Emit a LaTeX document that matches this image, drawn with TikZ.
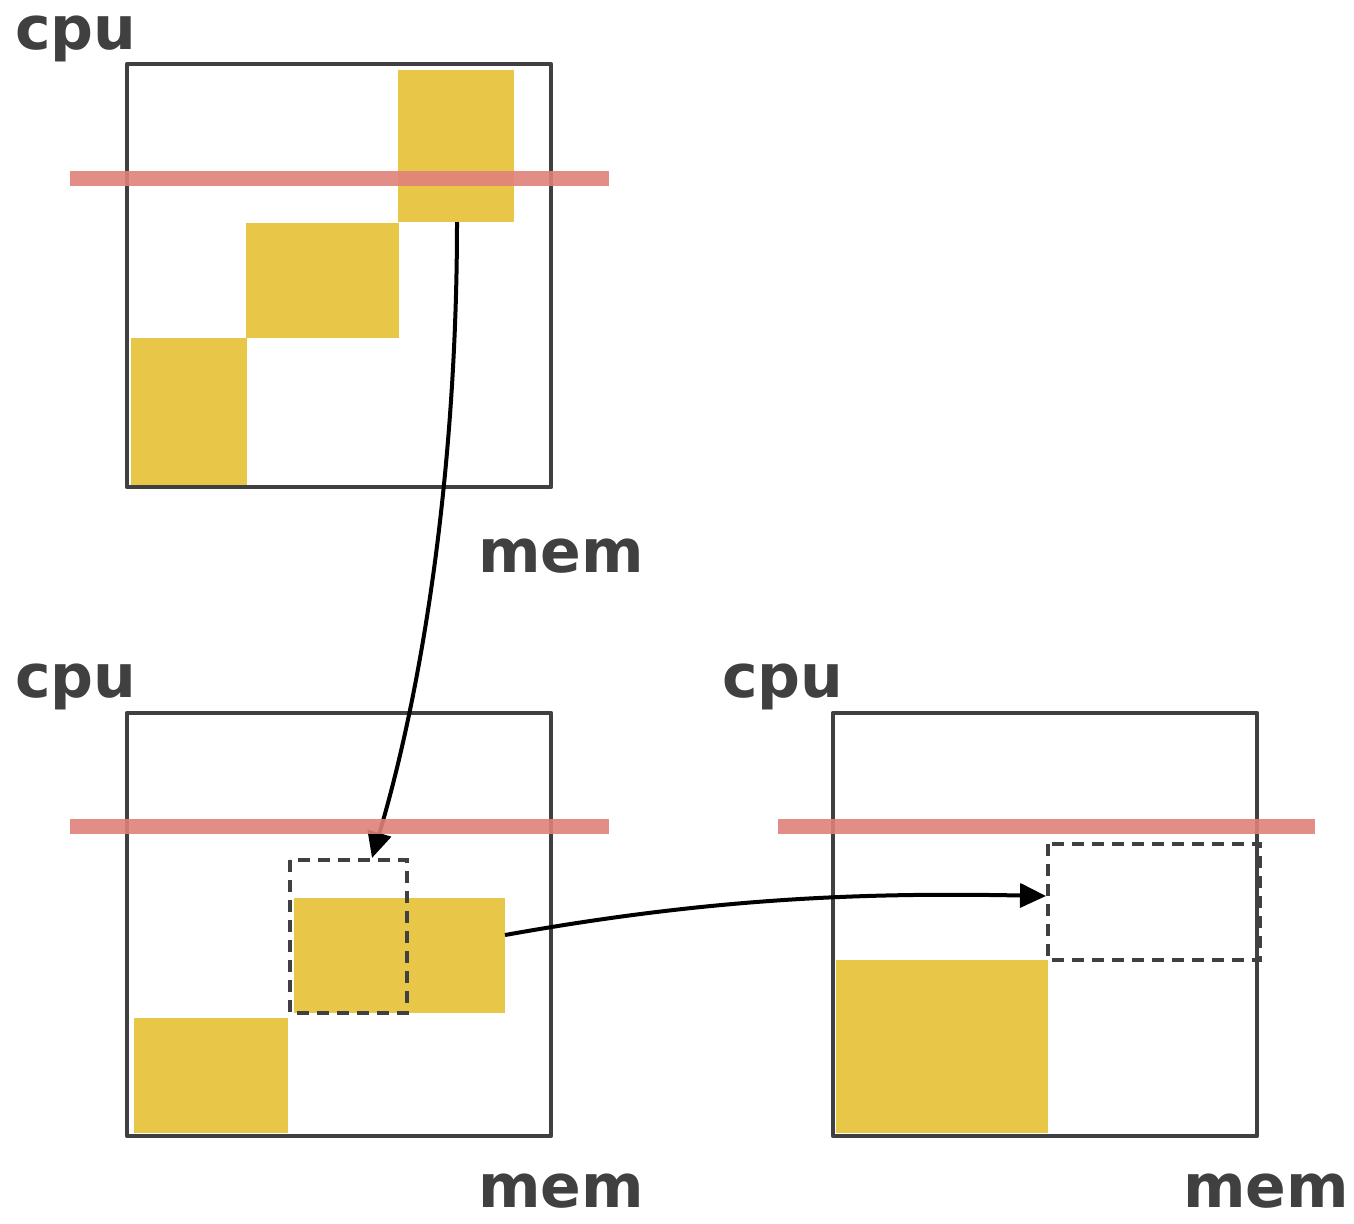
\documentclass[tikz,border=0pt]{standalone}
\usepackage{fontspec}
\setmainfont{DejaVu Sans}
\usetikzlibrary{arrows.meta}
\definecolor{ink}{HTML}{404040}
\definecolor{gold}{HTML}{E8C648}
\definecolor{redline}{HTML}{E0817A}
\begin{document}
\begin{tikzpicture}[x=0.5pt,y=-0.5pt,
  frame/.style={draw=ink,line width=2.2pt,line join=round,line cap=round},
  block/.style={fill=gold},
  hline/.style={draw=redline,line width=7.5pt,opacity=0.9},
  dashbox/.style={draw=ink,line width=2pt,dash pattern=on 6pt off 4pt},
  conn/.style={draw=black,line width=2pt,-{Triangle[length=13pt,width=12pt]}},
  lbl/.style={text=ink,font=\bfseries\fontsize{30}{30}\selectfont,inner sep=0pt,anchor=base west}]
\useasboundingbox (0,0) rectangle (1354,1223);

% ---------- top panel ----------
\fill[block] (398,70) rectangle (514,222);
\fill[block] (246,223) rectangle (399,338);
\fill[block] (131,338) rectangle (247,486);
\draw[frame] (127,64) rectangle (551,487);
\node[lbl] (cpu1) at (15,49) {cpu};
\node[lbl] (mem1) at (478,572) {mem};

% ---------- bottom-left panel ----------
\fill[block] (294,898) rectangle (505,1013);
\fill[block] (134,1018) rectangle (288,1133);
\draw[frame] (127,713) rectangle (551,1136);
\draw[dashbox] (290,860) rectangle (407,1013);
\node[lbl] (cpu2) at (15,697) {cpu};
\node[lbl] (mem2) at (478,1207) {mem};

% ---------- bottom-right panel ----------
\fill[block] (836,960) rectangle (1048,1133);
\draw[frame] (833,713) rectangle (1257,1136);
\draw[dashbox] (1048,844) rectangle (1260,960);
\node[lbl] (cpu3) at (722,697) {cpu};
\node[lbl] (mem3) at (1183,1207) {mem};

% ---------- connectors ----------
\coordinate (a1s) at (457,222);
\coordinate (a1e) at (372,858);
\coordinate (a2s) at (505,935);
\coordinate (a2e) at (1046,896);
\draw[conn] (a1s) .. controls (457,460) and (425,680) .. (a1e);
\draw[conn] (a2s) .. controls (700,900) and (850,892) .. (a2e);

% ---------- red lines ----------
\draw[hline] (70,178) -- (609,178);
\draw[hline] (70,826) -- (609,826);
\draw[hline] (778,826) -- (1315,826);
\end{tikzpicture}
\end{document}
